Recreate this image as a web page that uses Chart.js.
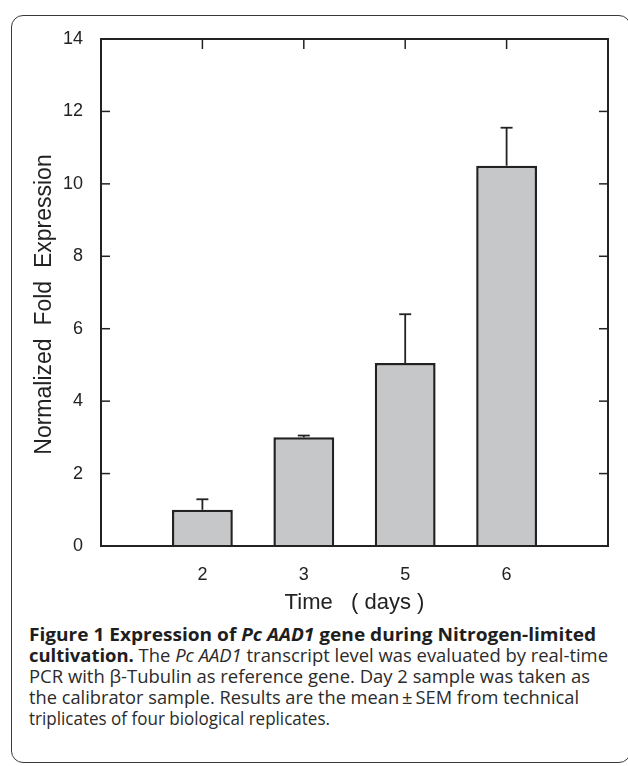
<!DOCTYPE html>
<html><head><meta charset="utf-8">
<script src="https://cdn.jsdelivr.net/npm/chart.js@4.4.1/dist/chart.umd.min.js"></script>
<style>
html,body{margin:0;padding:0;background:#fff;width:628px;height:766px;overflow:hidden;position:relative;}
#frame{position:absolute;left:11px;top:15px;width:620px;height:748px;border:1.5px solid #3a3a3a;border-radius:12px;box-sizing:border-box;}
#wrap{position:absolute;left:0;top:0;width:628px;height:620px;}
#cap{position:absolute;left:29px;top:623.5px;font-family:'Open Sans',sans-serif;font-size:18px;line-height:21px;color:#2b2b2b;}
#cap div{white-space:nowrap;transform-origin:0 50%;}
#cap b{color:#1e1e1e;}
</style></head><body>
<div id="frame"></div>
<div id="wrap"><canvas id="c" width="628" height="620"></canvas></div>
<div id="cap">
<div><b>Figure 1 Expression of <i>Pc AAD1</i> gene during Nitrogen-limited</b></div>
<div><b>cultivation.</b> The <i>Pc AAD1</i> transcript level was evaluated by real-time</div>
<div>PCR with β-Tubulin as reference gene. Day 2 sample was taken as</div>
<div>the calibrator sample. Results are the mean&#8201;±&#8201;SEM from technical</div>
<div>triplicates of four biological replicates.</div>
</div>
<script>
// ---- data ----
const categories = ['2', '3', '5', '6'];
const values = [1.0, 3.0, 5.05, 10.5];
const sem = [0.29, 0.05, 1.35, 1.05];
const yTicks = [0, 2, 4, 6, 8, 10, 12, 14];
const xTitle = 'Time   ( days )';
const yTitle = 'Normalized  Fold  Expression';

const labels = ['', ...categories, ''];
const barData = [null, ...values, null];

const INK = '#222';
const axesPlugin = {
  id: 'axesBox',
  beforeDatasetsDraw(chart) {
    const {ctx, chartArea: a, scales: {x, y}} = chart;
    ctx.save();
    ctx.strokeStyle = INK; ctx.lineWidth = 1.5;
    const line = (x1, y1, x2, y2) => { ctx.beginPath(); ctx.moveTo(x1, y1); ctx.lineTo(x2, y2); ctx.stroke(); };
    yTicks.forEach(v => {
      const py = y.getPixelForValue(v);
      line(a.left, py, a.left + 9, py);
      line(a.right, py, a.right - 9, py);
    });
    categories.forEach((c, i) => {
      const px = x.getPixelForValue(i + 1);
      line(px, a.top, px, a.top + 10);
      line(px, a.bottom, px, a.bottom - 10);
    });
    ctx.restore();
  },
  afterDatasetsDraw(chart) {
    const {ctx, chartArea: a, scales: {x, y}} = chart;
    ctx.save();
    ctx.strokeStyle = INK;
    ctx.lineWidth = 1.8;
    values.forEach((v, i) => {
      const px = x.getPixelForValue(i + 1);
      const y0 = y.getPixelForValue(v);
      const y1 = y.getPixelForValue(v + sem[i]);
      ctx.beginPath(); ctx.moveTo(px, y0); ctx.lineTo(px, y1); ctx.stroke();
      ctx.beginPath(); ctx.moveTo(px - 6, y1); ctx.lineTo(px + 6, y1); ctx.stroke();
    });
    ctx.lineWidth = 2;
    ctx.strokeRect(a.left, a.top, a.right - a.left, a.bottom - a.top);
    // y axis title
    ctx.fillStyle = INK;
    ctx.font = '23px "Liberation Sans"';
    ctx.textAlign = 'center';
    ctx.textBaseline = 'middle';
    ctx.translate(45, (a.top + a.bottom) / 2 + 12);
    ctx.rotate(-Math.PI / 2);
    ctx.fillText(yTitle, 0, 0);
    ctx.restore();
  }
};

new Chart(document.getElementById('c'), {
  type: 'bar',
  data: {
    labels: labels,
    datasets: [{
      data: barData,
      backgroundColor: '#c6c7c9',
      borderColor: INK,
      borderWidth: 2.5,
      barPercentage: 0.6,
      categoryPercentage: 1.0
    }]
  },
  options: {
    responsive: false,
    animation: false,
    devicePixelRatio: 1,
    layout: {padding: {left: 0, top: 39, right: 20, bottom: 0}},
    plugins: {legend: {display: false}, tooltip: {enabled: false}},
    scales: {
      x: {
        type: 'category',
        offset: false,
        grid: {display: false},
        border: {display: false},
        ticks: {color: INK, font: {family: 'Liberation Sans', size: 18}, padding: 10, maxRotation: 0, autoSkip: false},
        title: {display: true, text: xTitle, color: INK, font: {family: 'Liberation Sans', size: 22}, padding: {top: 4, bottom: 4}},
        afterFit(s) { s.height = 74; }
      },
      y: {
        min: 0, max: 14,
        grid: {display: false},
        border: {display: false},
        afterBuildTicks(s) { s.ticks = yTicks.map(v => ({value: v})); },
        ticks: {color: INK, font: {family: 'Liberation Sans', size: 18}, padding: 10},
        title: {display: false, text: yTitle},
        afterFit(s) { s.width = 101; }
      }
    }
  },
  plugins: [axesPlugin]
});

// fit caption lines horizontally to the reference widths
const capTargets = [567, 579, 561, 550, 301];
document.fonts.ready.then(() => {
  document.querySelectorAll('#cap div').forEach((d, i) => {
    d.style.display = 'inline-block';
    const w = d.getBoundingClientRect().width;
    d.style.display = 'block';
    d.style.transform = 'scaleX(' + (capTargets[i] / w).toFixed(4) + ')';
  });
});
</script>
</body></html>
